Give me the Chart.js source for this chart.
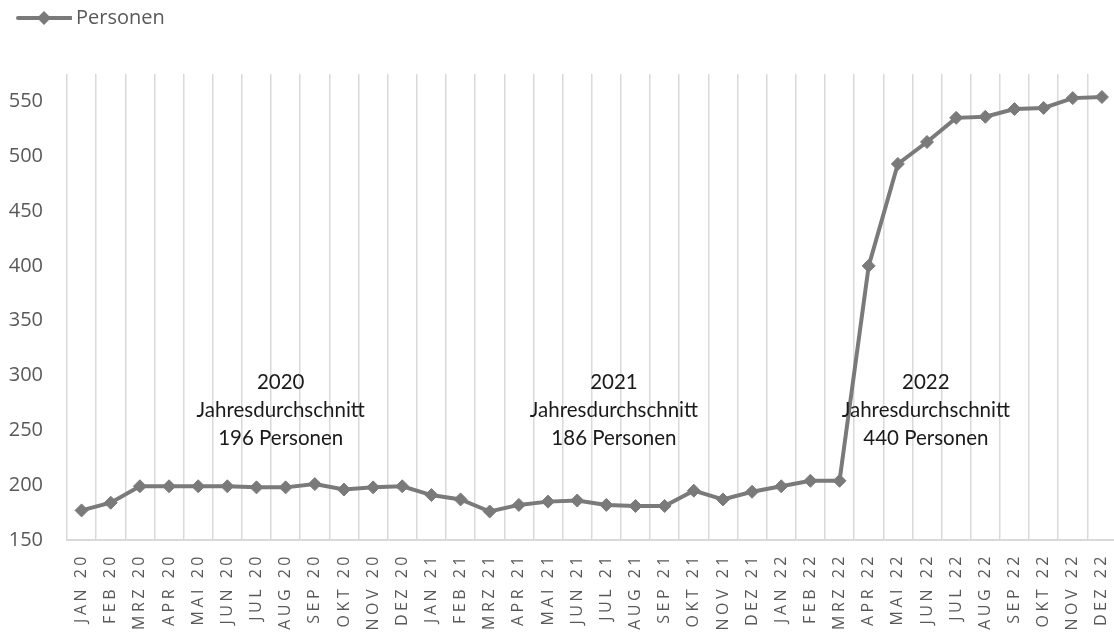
<!DOCTYPE html>
<html>
<head>
<meta charset="utf-8">
<script src="https://cdn.jsdelivr.net/npm/chart.js@4.4.0/dist/chart.umd.min.js"></script>
<style>
  html, body { margin: 0; padding: 0; background: #ffffff; overflow: hidden; }
  #wrap { width: 1124px; height: 660px; }
</style>
</head>
<body>
<div id="wrap"><canvas id="c" width="1124" height="660"></canvas></div>
<script>
// ---- Data ----
const categories = [
  'JAN 20','FEB 20','MRZ 20','APR 20','MAI 20','JUN 20','JUL 20','AUG 20','SEP 20','OKT 20','NOV 20','DEZ 20',
  'JAN 21','FEB 21','MRZ 21','APR 21','MAI 21','JUN 21','JUL 21','AUG 21','SEP 21','OKT 21','NOV 21','DEZ 21',
  'JAN 22','FEB 22','MRZ 22','APR 22','MAI 22','JUN 22','JUL 22','AUG 22','SEP 22','OKT 22','NOV 22','DEZ 22'
];
const seriesName = 'Personen';
const personen = [
  177, 184, 199, 199, 199, 199, 198, 198, 201, 196, 198, 199,
  191, 187, 176, 182, 185, 186, 182, 181, 181, 195, 187, 194,
  199, 204, 204, 400, 493, 513, 535, 536, 543, 544, 553, 554
];
const yTickValues = [150, 200, 250, 300, 350, 400, 450, 500, 550];
const noteYears = ['2020', '2021', '2022'];
const noteAverages = [196, 186, 440];

// ---- Styling / placement ----
const LINE_COLOR = '#7a7a7a';
const GRID_COLOR = '#d9d9d9';
const TEXT_COLOR = '#595959';
const notePlacement = [ { x: 6.83, y: 268 }, { x: 18.26, y: 268 }, { x: 28.96, y: 268 } ];

// legend symbol: line with diamond
function legendSymbol() {
  const cv = document.createElement('canvas');
  cv.width = 70; cv.height = 16;
  const c = cv.getContext('2d');
  c.strokeStyle = LINE_COLOR; c.lineWidth = 4; c.lineCap = 'round';
  c.beginPath(); c.moveTo(16, 8); c.lineTo(69, 8); c.stroke();
  c.fillStyle = LINE_COLOR;
  c.beginPath(); c.moveTo(42, 1); c.lineTo(49, 8); c.lineTo(42, 15); c.lineTo(35, 8); c.closePath(); c.fill();
  return cv;
}
const symbol = legendSymbol();

const layoutPlugin = {
  id: 'layoutFix',
  beforeLayout(chart) {
    if (chart.legend && !chart.legend._fixed) {
      const orig = chart.legend.fit;
      chart.legend.fit = function() { orig.call(this); this.height = 74; this.minSize && (this.minSize.height = 74); };
      chart.legend._fixed = true;
    }
  },
  beforeDraw(chart) {
    const s = chart.scales.x;
    if (s && !s._spaced) {
      const orig = s.drawLabels;
      s.drawLabels = function(area) {
        const ctx = this.ctx;
        ctx.save();
        ctx.letterSpacing = '3.5px';
        orig.call(this, area);
        ctx.restore();
      };
      s._spaced = true;
    }
  }
};

const notesPlugin = {
  id: 'notes',
  afterDatasetsDraw(chart) {
    const ctx = chart.ctx;
    const xs = chart.scales.x, ys = chart.scales.y;
    ctx.save();
    ctx.font = '20.5px Lato';
    ctx.fillStyle = '#1a1a1a';
    ctx.textAlign = 'center';
    ctx.textBaseline = 'middle';
    noteYears.forEach((yr, i) => {
      const p = notePlacement[i];
      const cx = xs.getPixelForValue(p.x);
      const cy = ys.getPixelForValue(p.y);
      const lines = [yr, 'Jahresdurchschnitt', noteAverages[i] + ' Personen'];
      lines.forEach((t, k) => ctx.fillText(t, cx, cy + (k - 1) * 28));
    });
    ctx.restore();
  }
};

new Chart(document.getElementById('c'), {
  type: 'line',
  data: {
    labels: categories,
    datasets: [{
      label: seriesName,
      data: personen,
      borderColor: LINE_COLOR,
      backgroundColor: LINE_COLOR,
      borderWidth: 4,
      pointStyle: 'rectRot',
      pointRadius: 6.5,
      pointBorderWidth: 1,
      pointBackgroundColor: LINE_COLOR,
      pointBorderColor: LINE_COLOR,
      tension: 0
    }]
  },
  options: {
    responsive: false,
    animation: false,
    layout: { padding: 0 },
    plugins: {
      tooltip: { enabled: false },
      legend: {
        position: 'top',
        align: 'start',
        labels: {
          usePointStyle: true,
          pointStyleWidth: 58,
          padding: 8,
          color: TEXT_COLOR,
          font: { family: 'Open Sans', size: 20 },
          generateLabels: (chart) => [{
            text: seriesName,
            pointStyle: symbol,
            fillStyle: LINE_COLOR,
            strokeStyle: LINE_COLOR,
            lineWidth: 0,
            datasetIndex: 0,
            fontColor: TEXT_COLOR
          }]
        }
      }
    },
    scales: {
      x: {
        offset: true,
        grid: { display: true, offset: true, color: GRID_COLOR, lineWidth: 1.5, drawTicks: false },
        border: { display: true, color: GRID_COLOR, width: 2 },
        ticks: {
          autoSkip: false, minRotation: 90, maxRotation: 90, padding: 13,
          color: TEXT_COLOR, font: { family: 'Open Sans', size: 16 }
        },
        afterFit(scale) { scale.height = 660 - 540; scale.paddingRight = 0; scale.paddingLeft = 0; }
      },
      y: {
        min: 150,
        max: 575,
        grid: { display: false, drawTicks: false },
        border: { display: false },
        ticks: {
          stepSize: 50, padding: 24,
          color: TEXT_COLOR, font: { family: 'Open Sans', size: 20 }
        },
        afterBuildTicks(scale) {
          scale.ticks = yTickValues.map(v => ({ value: v }));
        },
        afterFit(scale) { scale.width = 67; }
      }
    }
  },
  plugins: [layoutPlugin, notesPlugin]
});
</script>
</body>
</html>
